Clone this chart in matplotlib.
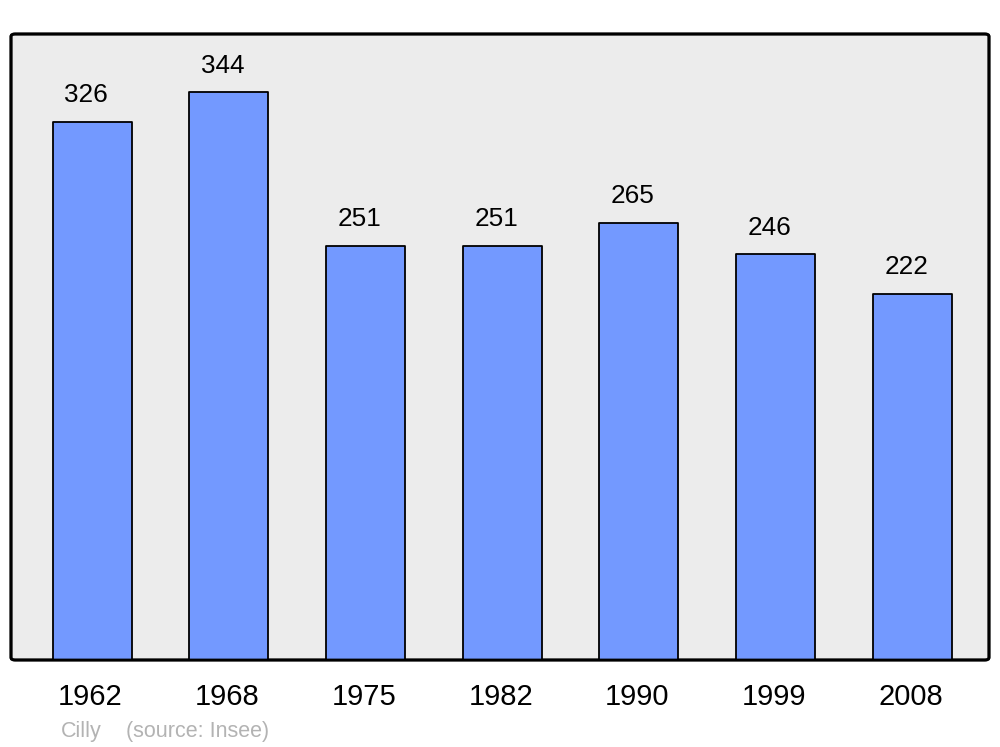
import matplotlib
matplotlib.use("Agg")
import matplotlib.pyplot as plt
import matplotlib.transforms as mtransforms
from matplotlib.patches import FancyBboxPatch

years = ["1962", "1968", "1975", "1982", "1990", "1999", "2008"]
population = [326, 344, 251, 251, 265, 246, 222]
place = "Cilly"
source = "(source: Insee)"

plt.rcParams['font.family'] = ['Liberation Sans', 'DejaVu Sans']

fig = plt.figure(figsize=(10, 7.47), dpi=100)
ax = fig.add_axes([11/1000, 1 - 660/747, 978/1000, 626/747])
ax.set_facecolor('none')

x = list(range(len(years)))
bars = ax.bar(x, population, width=0.578, color='#7399ff', edgecolor='black',
              linewidth=1.3, zorder=3)
for b in bars:
    b.set_joinstyle('round')

for xi, v in zip(x, population):
    ax.annotate(str(v), (xi, v), xytext=(-4.3, 19.0), textcoords='offset points',
                ha='center', va='center', fontsize=18.8, zorder=4)

ax.set_xlim(-0.593, 6.56)
ax.set_ylim(0, 379.2)
ax.set_xticks(x)
ax.set_xticklabels(years, fontsize=21)
ax.tick_params(axis='x', length=0, pad=16.5)
shift = mtransforms.ScaledTranslation(-1.5/100, 0, fig.dpi_scale_trans)
for lbl in ax.get_xticklabels():
    lbl.set_transform(lbl.get_transform() + shift)
ax.set_yticks([])
for s in ax.spines.values():
    s.set_visible(False)

frame = FancyBboxPatch((0, 0), 1, 1, boxstyle='round,pad=0,rounding_size=0.004',
                       transform=ax.transAxes, facecolor='#ececec',
                       edgecolor='black', linewidth=2, zorder=0, clip_on=False)
ax.add_patch(frame)
frame2 = FancyBboxPatch((0, 0), 1, 1, boxstyle='round,pad=0,rounding_size=0.004',
                        transform=ax.transAxes, facecolor='none',
                        edgecolor='black', linewidth=2, zorder=5, clip_on=False)
ax.add_patch(frame2)

fig.text(61/1000, 1 - 731/747, place, fontsize=15.5, color='#b3b3b3',
         ha='left', va='center')
fig.text(126/1000, 1 - 731/747, source, fontsize=15.5, color='#b3b3b3',
         ha='left', va='center')

fig.savefig('out.png', dpi=100)
